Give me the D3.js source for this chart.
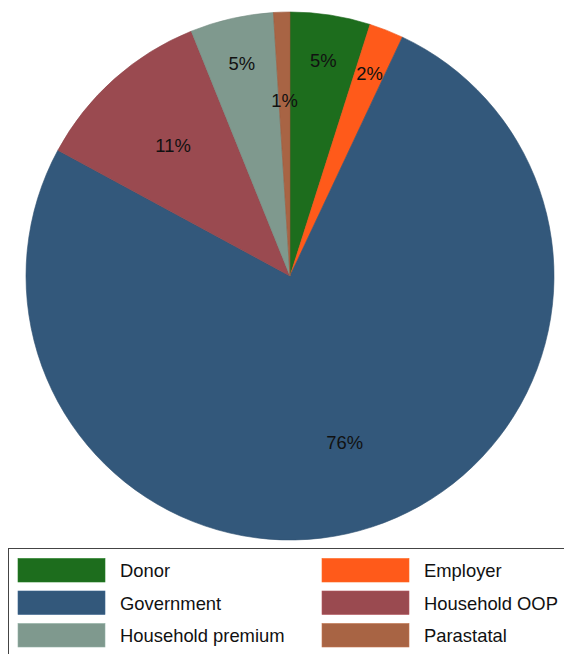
<!DOCTYPE html>
<html>
<head>
<meta charset="utf-8">
<script src="https://cdn.jsdelivr.net/npm/d3@7"></script>
<style>
  html, body { margin: 0; padding: 0; background: #fff; overflow: hidden; }
  svg { display: block; }
  text { font-family: "Liberation Sans", Arial, sans-serif; }
</style>
</head>
<body>
<script>
// Health financing sources, share of total (%)
const sources = ["Donor", "Employer", "Government", "Household OOP", "Household premium", "Parastatal"];
const shares  = [4.9, 2.1, 75.9, 11.0, 5.1, 1.0];
const colors  = ["#1d6d1d", "#ff5a1a", "#33587b", "#9a4a50", "#7f998e", "#a86444"];

const W = 564, H = 654;
const cx = 290, cy = 276, R = 264;
const fontSize = 18.4;

// Label distance from centre, as a fraction of the radius
const outerRing = 0.825, innerRing = 0.665;
const labelRing = {
  "Donor": outerRing, "Employer": outerRing, "Household premium": outerRing,
  "Government": innerRing, "Household OOP": innerRing, "Parastatal": innerRing
};

const data = sources.map((s, i) => ({ source: s, share: shares[i], color: colors[i] }));

const svg = d3.select("body").append("svg").attr("width", W).attr("height", H);

const pie = d3.pie().sort(null).value(d => d.share);
const arcs = pie(data);
const arc = d3.arc().innerRadius(0).outerRadius(R);

const g = svg.append("g").attr("transform", `translate(${cx},${cy})`);

g.selectAll("path.slice")
  .data(arcs)
  .join("path")
  .attr("class", "slice")
  .attr("d", arc)
  .attr("fill", d => d.data.color)
  .attr("stroke", d => d3.color(d.data.color).darker(0.25))
  .attr("stroke-width", 0.6);

const fmt = d3.format(".0f");
g.selectAll("text.plabel")
  .data(arcs)
  .join("text")
  .attr("class", "plabel")
  .attr("transform", d => {
    const r = R * labelRing[d.data.source];
    const a = (d.startAngle + d.endAngle) / 2;
    return `translate(${r * Math.sin(a)},${-r * Math.cos(a)})`;
  })
  .attr("text-anchor", "middle")
  .attr("dy", "0.36em")
  .attr("font-size", fontSize)
  .attr("fill", "#111")
  .text(d => fmt(d.data.share) + "%");

// Legend: two columns, three rows, framed box
const legend = svg.append("g");
legend.append("rect")
  .attr("x", 8.5).attr("y", 548.5)
  .attr("width", 600).attr("height", 140)
  .attr("fill", "#fff")
  .attr("stroke", "#444")
  .attr("stroke-width", 1);

const colX = [18, 322];
const rowY = [558.5, 591, 623.5];
const item = legend.selectAll("g.item")
  .data(data)
  .join("g")
  .attr("class", "item")
  .attr("transform", (d, i) => `translate(${colX[i % 2]},${rowY[Math.floor(i / 2)]})`);

item.append("rect")
  .attr("width", 87).attr("height", 23.5)
  .attr("fill", d => d.color)
  .attr("stroke", d => d3.color(d.color).brighter(0.4))
  .attr("stroke-width", 0.6);

item.append("text")
  .attr("x", 102)
  .attr("y", 11.75)
  .attr("dy", "0.38em")
  .attr("font-size", fontSize)
  .attr("fill", "#111")
  .text(d => d.source);
</script>
</body>
</html>
